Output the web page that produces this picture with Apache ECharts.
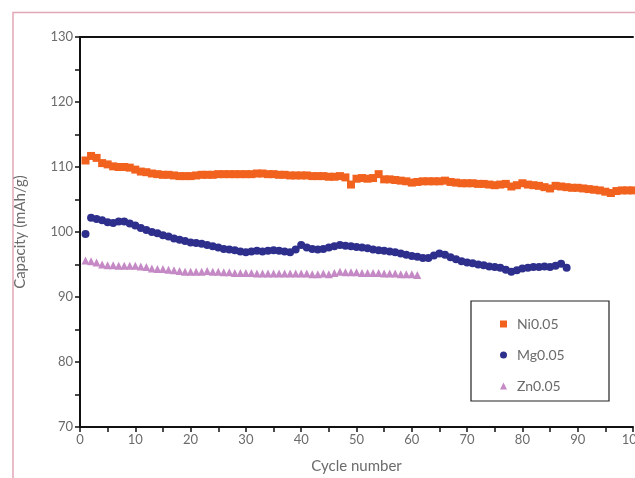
<!DOCTYPE html>
<html>
<head>
<meta charset="utf-8">
<script src="https://cdn.jsdelivr.net/npm/echarts@6/dist/echarts.min.js"></script>
<style>
  html, body { margin: 0; padding: 0; background: #fff; overflow: hidden; }
  #chart { width: 635px; height: 478px; }
</style>
</head>
<body>
<div id="chart"></div>
<script>
// Discharge capacity per cycle for the three doped cathodes
const seriesNames = ['Ni0.05', 'Mg0.05', 'Zn0.05'];

const niCapacity = [
  111.0, 111.7, 111.4, 110.6, 110.4, 110.1, 110.0, 110.0, 109.9, 109.6,
  109.3, 109.2, 109.0, 108.9, 108.8, 108.8, 108.7, 108.6, 108.6, 108.6,
  108.7, 108.8, 108.8, 108.8, 108.9, 108.9, 108.9, 108.9, 108.9, 108.9,
  108.9, 109.0, 109.0, 108.9, 108.9, 108.8, 108.8, 108.7, 108.7, 108.7,
  108.7, 108.6, 108.6, 108.6, 108.5, 108.5, 108.6, 108.4, 107.3, 108.2,
  108.3, 108.2, 108.3, 108.9, 108.1, 108.1, 108.0, 107.9, 107.8, 107.6,
  107.7, 107.8, 107.8, 107.8, 107.8, 107.9, 107.7, 107.6, 107.5, 107.5,
  107.5, 107.4, 107.4, 107.3, 107.2, 107.3, 107.4, 107.0, 107.2, 107.5,
  107.3, 107.2, 107.1, 106.9, 106.7, 107.1, 107.0, 106.9, 106.8, 106.8,
  106.7, 106.6, 106.5, 106.4, 106.2, 106.0, 106.3, 106.4, 106.4, 106.4
];

const mgCapacity = [
  99.7, 102.2, 102.0, 101.8, 101.5, 101.4, 101.6, 101.6, 101.3, 101.0,
  100.6, 100.3, 100.0, 99.8, 99.5, 99.3, 99.0, 98.8, 98.6, 98.4,
  98.3, 98.2, 98.0, 97.8, 97.6, 97.4, 97.3, 97.2, 97.0, 96.9,
  97.0, 97.1, 97.0, 97.1, 97.2, 97.1, 97.0, 96.9, 97.3, 98.0,
  97.6, 97.4, 97.3, 97.4, 97.6, 97.8, 98.0, 97.9, 97.8, 97.7,
  97.6, 97.5, 97.3, 97.2, 97.1, 97.0, 96.9, 96.7, 96.5, 96.3,
  96.2, 96.0, 96.0, 96.4, 96.7, 96.5, 96.1, 95.8, 95.5, 95.3,
  95.2, 95.0, 94.9, 94.7, 94.6, 94.5, 94.2, 93.9, 94.1, 94.4,
  94.5, 94.6, 94.6, 94.7, 94.6, 94.8, 95.1, 94.5
];

const znCapacity = [
  95.6, 95.5, 95.3, 95.0, 94.9, 94.9, 94.8, 94.8, 94.8, 94.8,
  94.7, 94.6, 94.4, 94.3, 94.3, 94.2, 94.1, 94.0, 93.9, 93.9,
  93.9, 93.9, 94.0, 93.9, 93.9, 93.8, 93.8, 93.7, 93.7, 93.7,
  93.7, 93.6, 93.6, 93.6, 93.6, 93.6, 93.6, 93.6, 93.6, 93.6,
  93.6, 93.5, 93.5, 93.6, 93.5, 93.7, 93.9, 93.8, 93.8, 93.8,
  93.7, 93.7, 93.7, 93.7, 93.6, 93.6, 93.6, 93.5, 93.5, 93.5,
  93.4
];

const xTicks = { min: 0, max: 100, interval: 10 };
const yTicks = { min: 70, max: 130, interval: 10 };

// cycles are numbered from 1
const toPoints = arr => arr.map((v, i) => [i + 1, v]);

const FONT = 'Lato, "Open Sans", sans-serif';
const GRAY = '#6b6b6b';

const chart = echarts.init(document.getElementById('chart'), null, { renderer: 'canvas' });

const axisBase = {
  axisLine: { show: true, lineStyle: { color: '#111', width: 2 } },
  axisTick: { show: true, inside: false, length: 5, lineStyle: { color: '#111', width: 1.5 } },
  minorTick: { show: true, splitNumber: 2, length: 5, lineStyle: { color: '#111', width: 1.5 } },
  splitLine: { show: false },
  minorSplitLine: { show: false },
  axisLabel: { color: GRAY, fontFamily: FONT, fontSize: 13 },
  nameTextStyle: { color: GRAY, fontFamily: FONT, fontSize: 15 }
};

chart.setOption({
  animation: false,
  backgroundColor: '#fff',
  grid: { left: 80, top: 37, right: 2, bottom: 51, containLabel: false, outerBoundsMode: 'none' },
  xAxis: [
    Object.assign({}, axisBase, {
      type: 'value',
      min: xTicks.min, max: xTicks.max, interval: xTicks.interval,
      name: 'Cycle number',
      nameLocation: 'middle',
      nameGap: 32,
      axisLabel: Object.assign({}, axisBase.axisLabel, { margin: 6 })
    }),
    {
      type: 'value', position: 'top',
      min: xTicks.min, max: xTicks.max,
      axisLine: { show: true, lineStyle: { color: '#111', width: 2 } },
      axisTick: { show: false }, axisLabel: { show: false }, splitLine: { show: false }
    }
  ],
  yAxis: Object.assign({}, axisBase, {
    type: 'value',
    min: yTicks.min, max: yTicks.max, interval: yTicks.interval,
    name: 'Capacity (mAh/g)',
    nameLocation: 'middle',
    nameGap: 52,
    axisLabel: Object.assign({}, axisBase.axisLabel, { margin: 7 })
  }),
  legend: {
    orient: 'vertical',
    left: 495, top: 312,
    itemGap: 17,
    itemWidth: 7, itemHeight: 7,
    textStyle: { color: GRAY, fontFamily: FONT, fontSize: 14, padding: [0, 0, 0, 5] },
    data: [
      { name: seriesNames[0], icon: 'rect' },
      { name: seriesNames[1], icon: 'circle' },
      { name: seriesNames[2], icon: 'triangle' }
    ]
  },
  graphic: [
    // outer pink frame, running off the right and bottom edges
    { type: 'polyline', shape: { points: [[13, 700], [13, 12.5], [900, 12.5]] },
      style: { fill: 'none', stroke: '#e3a6b6', lineWidth: 1.5 }, z: -1 },
    // legend box
    { type: 'rect', shape: { x: 471, y: 301, width: 138, height: 100 },
      style: { fill: 'none', stroke: '#222', lineWidth: 1.2 } }
  ],
  series: [
    {
      name: seriesNames[0], type: 'scatter', data: toPoints(niCapacity),
      symbol: 'rect', symbolSize: 8,
      itemStyle: { color: '#f2621f', opacity: 1 }
    },
    {
      name: seriesNames[1], type: 'scatter', data: toPoints(mgCapacity),
      symbol: 'circle', symbolSize: 8,
      itemStyle: { color: '#2e2f8c', opacity: 1 }
    },
    {
      name: seriesNames[2], type: 'scatter', data: toPoints(znCapacity),
      symbol: 'triangle', symbolSize: 8,
      itemStyle: { color: '#c58ac6', opacity: 1 }
    }
  ]
});
</script>
</body>
</html>
